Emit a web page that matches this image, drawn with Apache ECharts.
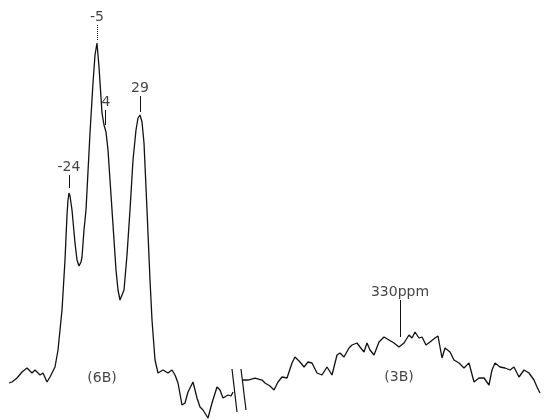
<!DOCTYPE html>
<html><head><meta charset="utf-8">
<script src="https://cdn.jsdelivr.net/npm/echarts@6/dist/echarts.min.js"></script>
<style>html,body{margin:0;padding:0;background:#fff}#c{width:544px;height:420px}</style>
</head><body><div id="c"></div>
<script>
// Spectrum trace, left part (6B region): [position, intensity]
const traceLeft = [[9,37],[12,38],[17,42],[22,48],[27,52],[32,47],[35,50],[40,45],[43,47],[47,38],[50,43],[55,53],[58,70],[62,110],[65,160],[67,205],[68,220],[69,227],[70,224],[72,210],[75,177],[77,160],[79,154],[81,158],[82,163],[84,190],[86,210],[90,287],[93,337],[95,365],[97,377],[99,353],[102,307],[104,295],[106,288],[108,270],[112,210],[116,150],[118,130],[120,120],[121,119],[122,121],[124,130],[127,165],[130,210],[133,260],[136,290],[138,302],[140,305],[142,298],[144,277],[147,210],[150,140],[152,100],[155,60],[158,47],[163,50],[168,47],[172,50],[175,45],[178,37],[182,15],[185,17],[188,28],[193,38],[197,22],[200,13],[203,10],[208,2],[212,17],[217,33],[220,30],[223,22],[228,25],[231,24],[233,28]];
// Spectrum trace, right part (3B region)
const traceRight = [[243,40],[248,40],[255,42],[262,40],[265,37],[270,34],[274,30],[278,38],[282,43],[287,42],[292,57],[295,63],[300,58],[304,53],[308,58],[312,57],[317,47],[322,45],[327,53],[332,45],[337,65],[340,67],[344,63],[349,72],[352,75],[357,77],[360,73],[364,68],[367,77],[370,70],[374,65],[379,78],[384,83],[389,80],[394,77],[399,73],[404,77],[409,85],[412,82],[415,88],[419,82],[422,83],[426,75],[430,78],[435,82],[438,84],[442,62],[445,72],[450,68],[454,60],[459,57],[464,52],[469,57],[474,38],[479,42],[484,42],[489,35],[492,50],[495,57],[500,53],[505,52],[510,50],[514,53],[519,43],[524,50],[529,47],[534,40],[537,33],[540,27]];
// Axis-break marks
const breakMarks = [[[232,51],[237,8]],[[241,51],[246,10]]];
// Peak annotations: label, position, tick bottom, tick top
const peakLabels = ['-24','-5','4','29','330ppm'];
const peakPos = [69,97,105,140,400];
const tickLow = [232,380,295,308,83];
const tickHigh = [245,395,310,324,120];
// Region labels
const regionLabels = ['(6B)','(3B)'];
const regionPos = [[102,42],[399,43]];

const chart = echarts.init(document.getElementById('c'));
const lineStyle = {color:'#111', width:1.3};
const textStyle = {color:'#111', fontFamily:'DejaVu Sans', fontSize:14};
chart.setOption({
  animation:false,
  backgroundColor:'#fff',
  grid:{left:0,right:0,top:0,bottom:0},
  xAxis:{type:'value',min:0,max:544,show:false},
  yAxis:{type:'value',min:0,max:420,show:false},
  series:[
    {type:'line',data:traceLeft,showSymbol:false,lineStyle:lineStyle,silent:true,
     markLine:{symbol:'none',silent:true,label:{show:false},
       lineStyle:{color:'#111',width:1,type:'solid'},
       data:peakPos.map((x,i)=>[{coord:[x,tickLow[i]],lineStyle:{type: i===1?'dotted':'solid'}},{coord:[x,tickHigh[i]]}])}},
    {type:'line',data:traceRight,showSymbol:false,lineStyle:lineStyle,silent:true},
    ...breakMarks.map(seg=>({type:'line',data:seg,showSymbol:false,lineStyle:{color:'#111',width:1.2},silent:true})),
    {type:'scatter',symbolSize:0,silent:true,
     data:peakLabels.map((t,i)=>({name:t,value:[peakPos[i]+(i===2?1:0),tickHigh[i]]})),
     label:{show:true,position:'top',distance:1,formatter:p=>p.name,...textStyle}},
    {type:'scatter',symbolSize:0,silent:true,
     data:regionLabels.map((t,i)=>({name:t,value:regionPos[i]})),
     label:{show:true,position:'inside',formatter:p=>p.name,...textStyle}}
  ]
});
</script></body></html>
